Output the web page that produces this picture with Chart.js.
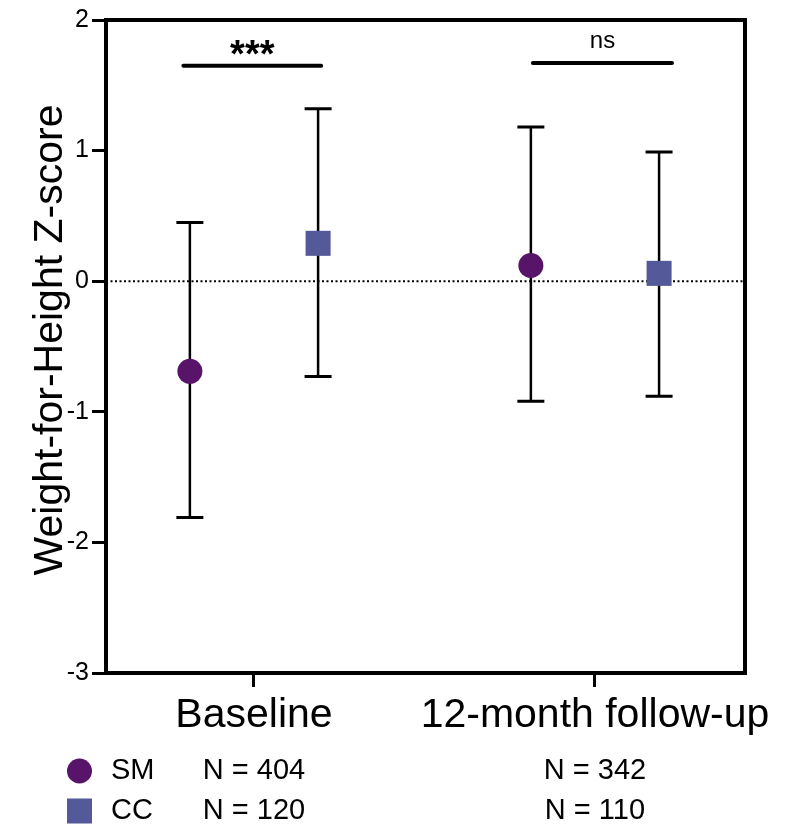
<!DOCTYPE html>
<html>
<head>
<meta charset="utf-8">
<script src="https://cdn.jsdelivr.net/npm/chart.js@4.4.1/dist/chart.umd.min.js"></script>
<style>
  html, body { margin: 0; padding: 0; background: #fff; }
  #wrap { width: 803px; height: 830px; }
</style>
</head>
<body>
<div id="wrap"><canvas id="myChart" width="803" height="830"></canvas></div>
<script>
// data
const groups = ["Baseline", "12-month follow-up"];
const smMean = [-0.69, 0.12];
const smUpper = [0.45, 1.18];
const smLower = [-1.81, -0.92];
const ccMean = [0.29, 0.06];
const ccUpper = [1.32, 0.99];
const ccLower = [-0.73, -0.88];
const smN = [404, 342];
const ccN = [120, 110];
const sigText = ["***", "ns"];
const sigLevel = [1.65, 1.67];
const yTicks = [-3, -2, -1, 0, 1, 2];

const FONT = "'Liberation Sans', Arial, Helvetica, sans-serif";
const smColor = "rgb(88, 20, 104)";
const ccColor = "rgb(84, 89, 153)";
const dodge = 0.188; // side offset of each group member

//bracket span around each group
const sigSpan = [[-0.207, 0.197], [-0.182, 0.226]];

function pts(mean, off) {
  return mean.map((v, i) => ({ x: i + off, y: v }));
}

// error bars, zero line and brackets
const extras = {
  id: "extras",
  beforeDatasetsDraw(chart) {
    const ctx = chart.ctx;
    const xs = chart.scales.x;
    const ys = chart.scales.y;
    const area = chart.chartArea;

    // dotted zero line
    ctx.save();
    ctx.strokeStyle = "#000";
    ctx.lineWidth = 2;
    ctx.setLineDash([2, 2.5]);
    ctx.beginPath();
    ctx.moveTo(area.left, ys.getPixelForValue(0));
    ctx.lineTo(area.right, ys.getPixelForValue(0));
    ctx.stroke();
    ctx.restore();

    // error bars
    const bars = [
      [smMean, smUpper, smLower, -dodge],
      [ccMean, ccUpper, ccLower, dodge],
    ];
    ctx.save();
    ctx.strokeStyle = "#000";
    bars.forEach(([m, hi, lo, off]) => {
      m.forEach((v, i) => {
        const x = xs.getPixelForValue(i + off);
        const yTop = ys.getPixelForValue(hi[i]);
        const yBot = ys.getPixelForValue(lo[i]);
        ctx.lineWidth = 2.5;
        ctx.beginPath();
        ctx.moveTo(x, yTop);
        ctx.lineTo(x, yBot);
        ctx.stroke();
        ctx.lineWidth = 3;
        ctx.beginPath();
        ctx.moveTo(x - 13.5, yTop);
        ctx.lineTo(x + 13.5, yTop);
        ctx.moveTo(x - 13.5, yBot);
        ctx.lineTo(x + 13.5, yBot);
        ctx.stroke();
      });
    });
    ctx.restore();
  },
  afterDraw(chart) {
    const ctx = chart.ctx;
    const xs = chart.scales.x;
    const ys = chart.scales.y;
    const area = chart.chartArea;

    // top and right frame
    ctx.save();
    ctx.strokeStyle = "#000";
    ctx.lineWidth = 4;
    ctx.beginPath();
    ctx.moveTo(area.left - 2, area.top);
    ctx.lineTo(area.right, area.top);
    ctx.lineTo(area.right, area.bottom + 2);
    ctx.stroke();
    ctx.restore();

    // significance brackets
    ctx.save();
    ctx.fillStyle = "#000";
    ctx.strokeStyle = "#000";
    ctx.lineWidth = 4;
    ctx.lineCap = "round";
    ctx.textAlign = "center";
    ctx.textBaseline = "alphabetic";
    sigText.forEach((t, i) => {
      const x1 = xs.getPixelForValue(i + sigSpan[i][0]);
      const x2 = xs.getPixelForValue(i + sigSpan[i][1]);
      const y = ys.getPixelForValue(sigLevel[i]);
      ctx.beginPath();
      ctx.moveTo(x1, y);
      ctx.lineTo(x2, y);
      ctx.stroke();
      if (t === "ns") {
        ctx.font = "24px " + FONT;
        ctx.fillText(t, (x1 + x2) / 2, y - 15);
      } else {
        ctx.font = "bold 38px " + FONT;
        ctx.fillText(t, (x1 + x2) / 2, y + 1);
      }
    });
    ctx.restore();

    // y axis title
    ctx.save();
    ctx.fillStyle = "#000";
    ctx.font = "41px " + FONT;
    ctx.textAlign = "center";
    ctx.textBaseline = "alphabetic";
    ctx.translate(62, 340);
    ctx.rotate(-Math.PI / 2);
    ctx.fillText("Weight-for-Height Z-score", 0, 0);
    ctx.restore();

    // legend with sample sizes
    ctx.save();
    ctx.fillStyle = smColor;
    ctx.beginPath();
    ctx.arc(79.5, 771, 12.5, 0, Math.PI * 2);
    ctx.fill();
    ctx.fillStyle = ccColor;
    ctx.fillRect(67, 798.5, 25, 25);
    ctx.fillStyle = "#000";
    ctx.font = "29px " + FONT;
    ctx.textBaseline = "middle";
    ctx.textAlign = "left";
    ctx.fillText("SM", 111, 771);
    ctx.fillText("CC", 111, 811);
    ctx.textAlign = "center";
    groups.forEach((g, i) => {
      const x = xs.getPixelForValue(i);
      ctx.fillText("N = " + smN[i], x, 771);
      ctx.fillText("N = " + ccN[i], x, 811);
    });
    ctx.restore();
  },
};

const ctx = document.getElementById("myChart").getContext("2d");

const chart = new Chart(ctx, {
  type: "scatter",
  data: {
    datasets: [
      {
        label: "SM",
        data: pts(smMean, -dodge),
        pointStyle: "circle",
        pointRadius: 12.5,
        pointHoverRadius: 12.5,
        backgroundColor: smColor,
        borderWidth: 0,
      },
      {
        label: "CC",
        data: pts(ccMean, dodge),
        pointStyle: "rect",
        pointRadius: 17.7,
        pointHoverRadius: 17.7,
        backgroundColor: ccColor,
        borderWidth: 0,
      },
    ],
  },
  options: {
    responsive: false,
    animation: false,
    layout: { padding: { left: 0, top: 20, right: 58, bottom: 0 } },
    plugins: {
      legend: { display: false },
      tooltip: { enabled: false },
    },
    scales: {
      x: {
        type: "linear",
        min: -0.434,
        max: 1.44,
        afterBuildTicks: (s) => {
          s.ticks = groups.map((g, i) => ({ value: i }));
        },
        afterFit: (s) => {
          s.height = 157;
        },
        ticks: {
          callback: (v) => groups[v],
          color: "#000",
          font: { family: FONT, size: 41 },
          padding: 4,
          maxRotation: 0,
        },
        grid: {
          drawOnChartArea: false,
          drawTicks: true,
          tickLength: 14,
          tickWidth: 3,
          tickColor: "#000",
        },
        border: { display: true, color: "#000", width: 4 },
      },
      y: {
        min: -3,
        max: 2,
        afterBuildTicks: (s) => {
          s.ticks = yTicks.map((v) => ({ value: v }));
        },
        afterFit: (s) => {
          s.width = 106;
        },
        ticks: {
          color: "#000",
          font: { family: FONT, size: 25 },
          padding: 3,
        },
        grid: {
          drawOnChartArea: false,
          drawTicks: true,
          tickLength: 14,
          tickWidth: 3,
          tickColor: "#000",
        },
        border: { display: true, color: "#000", width: 4 },
      },
    },
  },
  plugins: [extras],
});
</script>
</body>
</html>
